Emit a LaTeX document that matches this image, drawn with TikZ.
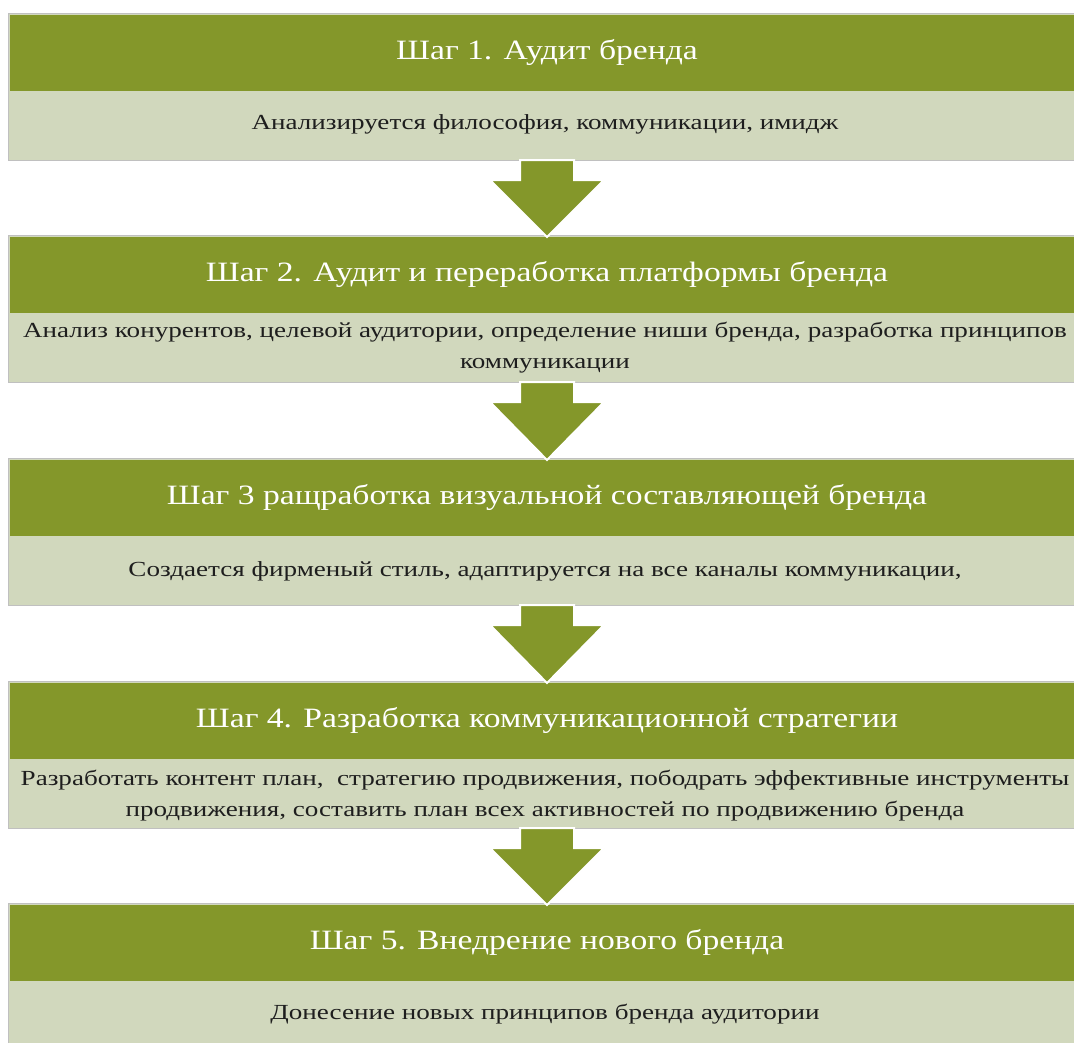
\documentclass[tikz,border=0pt]{standalone}
\usepackage{fontspec}
\setmainfont{Liberation Serif}
\newfontfamily\stepfont{Liberation Serif}[FakeStretch=1.2]
\newfontfamily\descfont{Liberation Serif}[FakeStretch=1.26]
\usetikzlibrary{calc}
\definecolor{olivehead}{RGB}{132,151,42}
\definecolor{lightbody}{RGB}{209,216,189}
\definecolor{framegray}{RGB}{192,192,192}
\definecolor{textc}{RGB}{30,30,30}
\tikzset{
  frame/.style={draw=framegray, line width=1pt, fill=lightbody, minimum width=1072pt, minimum height=147pt, anchor=north west, inner sep=0pt, outer sep=0pt},
  head/.style={fill=olivehead, minimum width=1066pt, minimum height=76pt, anchor=north west, inner sep=0pt, outer sep=0pt},
  titletxt/.style={text=white, font=\stepfont\fontsize{28}{32}\selectfont, inner sep=0pt},
  bodytxt/.style={text=textc, align=center, font=\descfont\fontsize{21.5}{31}\selectfont, inner sep=0pt},
  blockarrow/.style={fill=olivehead, draw=white, line width=2pt, line join=miter}
}
\begin{document}
\begin{tikzpicture}[x=1pt,y=-1pt]
\useasboundingbox (0,0) rectangle (1074,1042);
\fill[white] (0,0) rectangle (1074,1042);
% boxes
\node[frame] (s1) at (8,13) {};
\node[head] (g1) at (10,14.5) {};
\node[frame] (s2) at (8,235) {};
\node[head] (g2) at (10,236.5) {};
\node[frame] (s3) at (8,458) {};
\node[head] (g3) at (10,459.5) {};
\node[frame] (s4) at (8,681) {};
\node[head] (g4) at (10,682.5) {};
\node[frame] (s5) at (8,903) {};
\node[head] (g5) at (10,904.5) {};
% titles
\node[titletxt] (t1) at ($(g1.center)+(4,0)$) {Шаг 1. Аудит бренда};
\node[titletxt] (t2) at ($(g2.center)+(4,0)$) {Шаг 2. Аудит и переработка платформы бренда};
\node[titletxt] (t3) at ($(g3.center)+(4,0)$) {Шаг 3 ращработка визуальной составляющей бренда};
\node[titletxt] (t4) at ($(g4.center)+(4,0)$) {Шаг 4. Разработка коммуникационной стратегии};
\node[titletxt] (t5) at ($(g5.center)+(4,0)$) {Шаг 5. Внедрение нового бренда};
% bodies
\node[bodytxt] (b1) at (545,124) {Анализируется философия, коммуникации, имидж};
\node[bodytxt] (b2) at (545,348) {Анализ конурентов, целевой аудитории, определение ниши бренда, разработка принципов\\коммуникации};
\node[bodytxt] (b3) at (545,571) {Создается фирменый стиль, адаптируется на все каналы коммуникации,};
\node[bodytxt] (b4) at (545,796) {Разработать контент план,\ \ стратегию продвижения, пободрать эффективные инструменты\\продвижения, составить план всех активностей по продвижению бренда};
\node[bodytxt] (b5) at (545,1014) {Донесение новых принципов бренда аудитории};
% arrows
\foreach \a/\b in {s1/s2,s2/s3,s3/s4,s4/s5}{
  \path ($(\a.south west)+(539,0)$) coordinate (top-\a)
        ($(\b.north west)+(539,2)$) coordinate (tip-\a);
  \draw[blockarrow] ($(top-\a)+(-27,0)$) -- ++(0,20) -- ++(-30,0) -- (tip-\a)
     -- ($(top-\a)+(57,20)$) -- ++(-30,0) -- ++(0,-20) -- cycle;
}
\end{tikzpicture}
\end{document}
